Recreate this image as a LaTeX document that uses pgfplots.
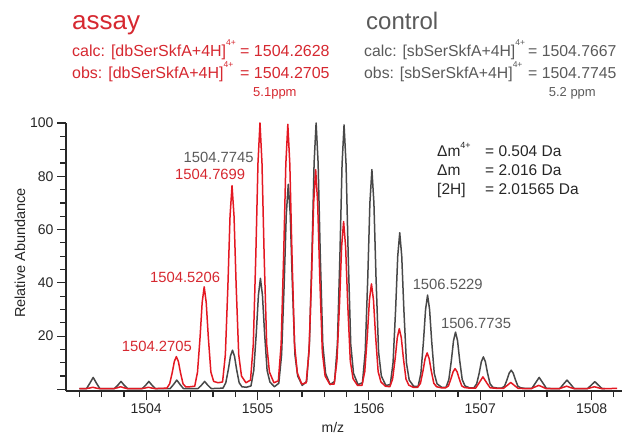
\documentclass[border=0pt]{standalone}
\usepackage{fontspec}
\setmainfont{Liberation Sans}
\usepackage{pgfplots}
\pgfplotsset{compat=1.18}

\definecolor{assayred}{RGB}{228,24,34}
\definecolor{assaytext}{RGB}{214,40,48}
\definecolor{ctrlgray}{RGB}{72,72,72}
\definecolor{ctrltext}{RGB}{90,90,90}
\definecolor{axisgray}{RGB}{40,40,40}

\newcommand{\fs}[1]{\fontsize{#1}{#1}\selectfont}
\newcommand{\supfp}{\raisebox{11.5pt}{\fs{8.5}4+}}

\begin{document}
\begin{tikzpicture}
\path (0,0) rectangle (624pt,436pt);

\begin{axis}[
    at={(66pt,45pt)}, anchor=south west,
    scale only axis, width=556pt, height=268pt,
    xmin=1503.28, xmax=1508.273, ymin=-0.6, ymax=100,
    axis x line*=bottom, axis y line*=left,
    axis line style={-, axisgray, line width=1.3pt},
    every outer x axis line/.append style={-},
    every outer y axis line/.append style={-},
    tick align=outside,
    major tick length=9pt, minor tick length=6pt,
    tick style={axisgray, line width=1.2pt},
    xtick={1504,1505,1506,1507,1508},
    minor xtick={1503.4,1503.6,1503.8,1504.2,1504.4,1504.6,1504.8,
                 1505.2,1505.4,1505.6,1505.8,1506.2,1506.4,1506.6,1506.8,
                 1507.2,1507.4,1507.6,1507.8,1508.2},
    ytick={0,20,40,60,80,100},
    yticklabels={,20,40,60,80,100},
    minor ytick={5,10,15,25,30,35,45,50,55,65,70,75,85,90,95},
    /pgf/number format/assume math mode=true,
    /pgf/number format/1000 sep={},
    ticklabel style={font=\fs{14}, text=black!85},
    xlabel={m/z},
    xlabel style={font=\fs{14}, text=black!85, at={(axis description cs:0.48,-0.138)}, anchor=center},
    ylabel={Relative Abundance},
    ylabel style={font=\fs{14.5}, text=black!85, at={(axis description cs:-0.083,0.515)}, anchor=center},
    clip=false,
]

% control (grey)
\addplot[ctrlgray, line width=1.5pt, line join=round] coordinates {
(1503.40,0.3)
(1503.464,0.3)(1503.494,2.3)(1503.524,4.5)(1503.554,2.3)(1503.584,0.3)
(1503.649,0.3)
(1503.714,0.3)(1503.744,1.5)(1503.774,3)(1503.804,1.5)(1503.834,0.3)
(1503.899,0.3)
(1503.964,0.3)(1503.994,1.5)(1504.024,3)(1504.054,1.5)(1504.084,0.3)
(1504.15,0.3)
(1504.215,0.3)(1504.245,1.8)(1504.275,3.5)(1504.305,1.8)(1504.335,0.3)
(1504.40,0.3)
(1504.465,0.3)(1504.495,1.5)(1504.525,3)(1504.555,1.5)(1504.585,0.3)
(1504.65,0.4)
(1504.690,0.5)(1504.715,2.5)(1504.738,7.5)(1504.757,12.5)(1504.775,14.7)(1504.793,12.5)(1504.812,7.5)(1504.835,2.5)(1504.860,1.0)
(1504.90,0.8)
(1504.941,1.3)(1504.966,7.1)(1504.989,21.3)(1505.008,35.4)(1505.026,41.7)(1505.044,35.4)(1505.063,21.3)(1505.086,7.1)(1505.111,2.8)
(1505.151,1.0)
(1505.191,2.3)(1505.216,13)(1505.239,39.3)(1505.258,65.5)(1505.276,77)(1505.294,65.5)(1505.313,39.3)(1505.336,13)(1505.361,5)
(1505.401,1.5)
(1505.441,3)(1505.466,17)(1505.489,51)(1505.508,85)(1505.526,100)(1505.544,85)(1505.563,51)(1505.586,17)(1505.611,6)
(1505.652,1.8)
(1505.692,3)(1505.717,16.9)(1505.740,50.6)(1505.759,84.4)(1505.777,99.3)(1505.795,84.4)(1505.814,50.6)(1505.837,16.9)(1505.862,6)
(1505.902,1.8)
(1505.942,2.5)(1505.967,14)(1505.990,42)(1506.009,70)(1506.027,82.5)(1506.045,70)(1506.064,42)(1506.087,14)(1506.112,5)
(1506.152,1.5)
(1506.192,1.8)(1506.217,10)(1506.240,30)(1506.259,50)(1506.277,58.8)(1506.295,50)(1506.314,30)(1506.337,10)(1506.362,3.5)
(1506.402,1.2)
(1506.442,1.1)(1506.467,6)(1506.490,18)(1506.509,30)(1506.527,35.4)(1506.545,30)(1506.564,18)(1506.587,6)(1506.612,2.1)
(1506.653,0.8)
(1506.693,0.8)(1506.718,3.7)(1506.741,11)(1506.760,18.3)(1506.778,21.5)(1506.796,18.3)(1506.815,11)(1506.838,3.7)(1506.863,1.3)
(1506.903,0.6)
(1506.943,0.6)(1506.968,2.1)(1506.991,6.2)(1507.010,10.4)(1507.028,12.2)(1507.046,10.4)(1507.065,6.2)(1507.088,2.1)(1507.113,0.8)
(1507.153,0.5)
(1507.193,0.5)(1507.218,1.2)(1507.241,3.7)(1507.260,6.1)(1507.278,7.2)(1507.296,6.1)(1507.315,3.7)(1507.338,1.2)(1507.363,0.6)
(1507.403,0.4)
(1507.464,0.4)(1507.494,2.3)(1507.529,4.5)(1507.564,2.3)(1507.594,0.4)
(1507.654,0.3)
(1507.714,0.3)(1507.744,1.8)(1507.779,3.5)(1507.814,1.8)(1507.844,0.3)
(1507.904,0.3)
(1507.964,0.3)(1507.994,1.5)(1508.029,2.9)(1508.064,1.5)(1508.094,0.3)
(1508.12,0.3)
};

% assay (red)
\addplot[assayred, line width=1.5pt, line join=round] coordinates {
(1503.40,0.3)
(1503.46,0.3)(1503.49,0.5)(1503.52,0.8)(1503.55,0.5)(1503.58,0.3)
(1503.645,0.3)
(1503.71,0.3)(1503.74,0.6)(1503.77,1.0)(1503.80,0.6)(1503.83,0.3)
(1503.895,0.3)
(1503.96,0.3)(1503.99,0.5)(1504.02,0.8)(1504.05,0.5)(1504.08,0.3)
(1504.146,0.4)
(1504.186,0.5)(1504.211,2.1)(1504.234,6.3)(1504.253,10.5)(1504.271,12.3)(1504.289,10.5)(1504.308,6.3)(1504.331,2.1)(1504.356,0.9)
(1504.396,1.0)
(1504.436,1.2)(1504.461,6.5)(1504.484,19.6)(1504.503,32.7)(1504.521,38.5)(1504.539,32.7)(1504.558,19.6)(1504.581,6.5)(1504.606,3.0)
(1504.646,2.5)
(1504.686,2.8)(1504.711,13)(1504.734,39)(1504.753,65)(1504.771,76.5)(1504.789,65)(1504.808,39)(1504.831,13)(1504.856,5)
(1504.896,2.5)
(1504.937,3.5)(1504.962,17)(1504.985,51)(1505.004,85)(1505.022,100)(1505.040,85)(1505.059,51)(1505.082,17)(1505.107,6.5)
(1505.147,2.5)
(1505.187,3.2)(1505.212,17)(1505.235,51)(1505.254,84.5)(1505.272,99.5)(1505.290,84.5)(1505.309,51)(1505.332,17)(1505.357,6.2)
(1505.397,2.0)
(1505.437,2.5)(1505.462,14)(1505.485,42)(1505.504,70)(1505.522,82.5)(1505.540,70)(1505.559,42)(1505.582,14)(1505.607,5)
(1505.648,2.0)
(1505.688,2)(1505.713,10.7)(1505.736,32)(1505.755,53.5)(1505.773,63)(1505.791,53.5)(1505.810,32)(1505.833,10.7)(1505.858,4)
(1505.898,1.5)
(1505.938,1.5)(1505.963,6.7)(1505.986,20.2)(1506.005,33.7)(1506.023,39.6)(1506.041,33.7)(1506.060,20.2)(1506.083,6.7)(1506.108,2.8)
(1506.148,1.2)
(1506.188,1.0)(1506.213,3.9)(1506.236,11.6)(1506.255,19.4)(1506.273,22.8)(1506.291,19.4)(1506.310,11.6)(1506.333,3.9)(1506.358,1.6)
(1506.398,0.8)
(1506.438,0.8)(1506.463,2.3)(1506.486,7)(1506.505,11.6)(1506.523,13.7)(1506.541,11.6)(1506.560,7)(1506.583,2.3)(1506.608,1)
(1506.649,0.6)
(1506.689,0.6)(1506.714,1.3)(1506.737,4)(1506.756,6.6)(1506.774,7.8)(1506.792,6.6)(1506.811,4)(1506.834,1.3)(1506.859,0.7)
(1506.899,0.5)
(1506.959,0.5)(1506.989,2.4)(1507.024,4.7)(1507.059,2.4)(1507.089,0.6)
(1507.149,0.4)
(1507.209,0.4)(1507.239,1.4)(1507.274,2.6)(1507.309,1.4)(1507.339,0.4)
(1507.40,0.3)
(1507.46,0.3)(1507.49,0.9)(1507.525,1.5)(1507.56,0.9)(1507.59,0.3)
(1507.65,0.3)
(1507.71,0.3)(1507.74,0.7)(1507.775,1.2)(1507.81,0.7)(1507.84,0.3)
(1507.90,0.3)
(1507.96,0.3)(1507.99,0.6)(1508.025,1.0)(1508.06,0.6)(1508.09,0.3)
(1508.15,0.3)(1508.23,0.4)
};

% peak annotations
\node[font=\fs{14.8}, text=assaytext] at (axis cs:1504.096,16.0) {1504.2705};
\node[font=\fs{14.8}, text=assaytext] at (axis cs:1504.350,42.2) {1504.5206};
\node[font=\fs{14.8}, text=assaytext] at (axis cs:1504.575,80.6) {1504.7699};
\node[font=\fs{14.8}, text=ctrltext] at (axis cs:1504.651,86.9) {1504.7745};
\node[font=\fs{14.8}, text=ctrltext] at (axis cs:1506.708,39.6) {1506.5229};
\node[font=\fs{14.8}, text=ctrltext] at (axis cs:1506.962,24.6) {1506.7735};
\end{axis}

% mass-difference block
\begin{scope}[every node/.style={anchor=base west, inner sep=0pt, font=\fs{15.5}, text=black!85}]
\node at (437pt,279.3pt) {Δm\raisebox{8pt}{\fs{9}4+}};
\node at (485pt,279.3pt) {= 0.504 Da};
\node at (437pt,260.3pt) {Δm};
\node at (485pt,260.3pt) {= 2.016 Da};
\node at (437pt,241pt) {[2H]};
\node at (485pt,241pt) {= 2.01565 Da};
\end{scope}

% header: assay
\begin{scope}[every node/.style={anchor=base west, inner sep=0pt, text=assaytext}]
\node[font=\fs{26}] at (72pt,406pt) {assay};
\node[font=\fs{16}] at (72pt,379pt) {calc: [dbSerSkfA+4H]\supfp};
\node[font=\fs{16}] at (240pt,379pt) {= 1504.2628};
\node[font=\fs{16}] at (72pt,357pt) {obs: [dbSerSkfA+4H]\supfp};
\node[font=\fs{16}] at (240pt,357pt) {= 1504.2705};
\node[font=\fs{13}] at (253pt,339pt) {5.1ppm};
\end{scope}

% header: control
\begin{scope}[every node/.style={anchor=base west, inner sep=0pt, text=ctrltext}]
\node[font=\fs{24}] at (366pt,406pt) {control};
\node[font=\fs{15.8}] at (364pt,379pt) {calc: [sbSerSkfA+4H]\supfp};
\node[font=\fs{15.8}] at (528pt,379pt) {= 1504.7667};
\node[font=\fs{15.8}] at (364pt,357pt) {obs: [sbSerSkfA+4H]\supfp};
\node[font=\fs{15.8}] at (528pt,357pt) {= 1504.7745};
\node[font=\fs{13}, anchor=base east] at (596pt,339pt) {5.2 ppm};
\end{scope}
\end{tikzpicture}
\end{document}
